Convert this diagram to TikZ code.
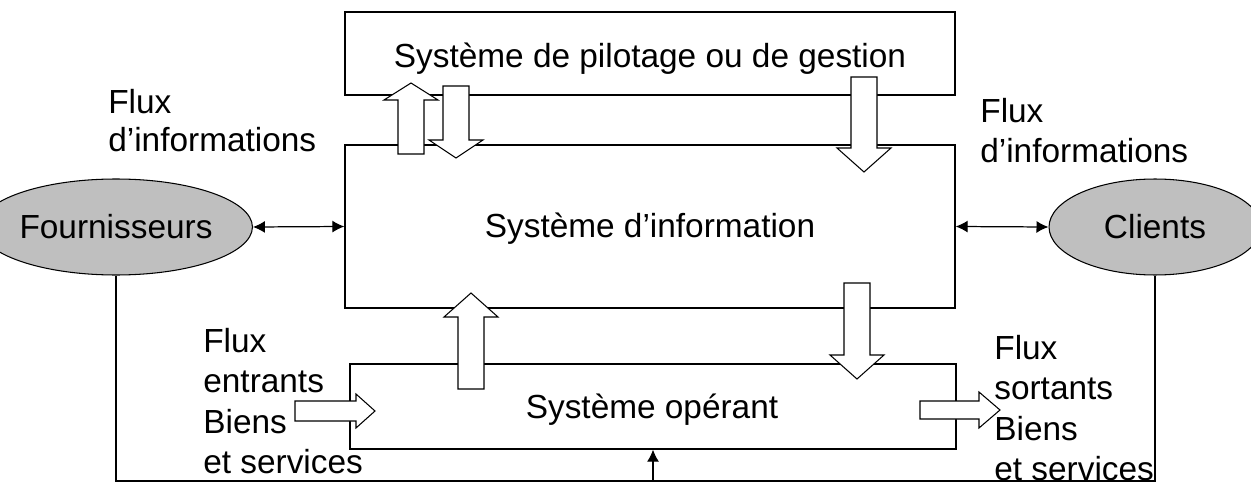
\documentclass[tikz,border=0pt]{standalone}
\usepackage{fontspec}
\setmainfont{Liberation Sans}
\usetikzlibrary{arrows.meta,shapes.geometric,calc}

\begin{document}
\begin{tikzpicture}[
    x=0.02cm,
    y=-0.02cm,
    >={Latex[length=2.4mm,width=2.4mm]},
    font=\fontsize{19}{21.6}\selectfont,
    box/.style={
        draw,
        rectangle,
        line width=0.8pt,
        inner sep=0pt
    },
    actor/.style={
        draw,
        ellipse,
        fill=gray!50,
        line width=0.6pt,
        minimum width=4.24cm,
        minimum height=1.92cm,
        inner sep=0pt
    },
    hollow/.style={
        draw,
        fill=white,
        line width=0.6pt,
        line join=miter
    },
    link/.style={
        <->,
        line width=0.7pt
    },
    flux/.style={
        align=left,
        inner sep=0pt,
        anchor=north west
    },
    fluxbas/.style={
        flux,
        font=\fontsize{19}{23}\selectfont
    }
    ]
    \useasboundingbox (0,0) rectangle (1251,483);

    % les trois systemes
    \node[box,minimum width=12.2cm,minimum height=1.66cm] (pilot) at (650,53.5) {};
    \node[box,minimum width=12.2cm,minimum height=3.26cm] (info) at (650,226.5) {};
    \node[box,minimum width=12.12cm,minimum height=1.7cm] (oper) at (653,406.5) {};
    \node[anchor=base] (pilottxt) at (650,68) {Système de pilotage ou de gestion};
    \node[anchor=base] (infotxt) at (650,237) {Système d’information};
    \node[anchor=base] (opertxt) at (652,418) {Système opérant};

    % partenaires
    \node[actor] (fourn) at (116,227) {Fournisseurs};
    \node[actor] (clients) at (1155,227) {Clients};

    \draw[link] (fourn.east) -- (info.west);
    \draw[link] (info.east) -- (clients.west);

    % retour par le bas
    \coordinate (bottom) at (653,481);
    \draw[line width=0.6pt] (fourn.south) |- (bottom) -| (clients.south);
    \draw[->,line width=0.6pt] (bottom) -- (oper.south);

    % flux d'informations entre systemes
    \draw[hollow] (398,154) -- (398,100) -- (384,100) -- (411,83) -- (438,100) -- (424,100) -- (424,154) -- cycle;
    \draw[hollow] (443,86) -- (443,140) -- (429,140) -- (456,158) -- (483,140) -- (469,140) -- (469,86) -- cycle;
    \draw[hollow] (851,77) -- (851,148) -- (837,148) -- (864,172) -- (891,148) -- (877,148) -- (877,77) -- cycle;
    \draw[hollow] (458,389) -- (458,317) -- (444,317) -- (471,293) -- (498,317) -- (484,317) -- (484,389) -- cycle;
    \draw[hollow] (844,283) -- (844,355) -- (830,355) -- (857,379) -- (884,355) -- (870,355) -- (870,283) -- cycle;

    % flux physiques
    \draw[hollow] (295,401) -- (356,401) -- (356,394) -- (375,411) -- (356,428) -- (356,421) -- (295,421) -- cycle;
    \draw[hollow] (920,401) -- (979,401) -- (979,392) -- (1000,410) -- (979,428) -- (979,419) -- (920,419) -- cycle;

    \node[flux] (infog) at (108,89) {Flux\\d’informations};
    \node[fluxbas] (infod) at (980,98) {Flux\\d’informations};
    \node[fluxbas] (entrants) at (203,328) {Flux\\entrants\\Biens\\et services};
    \node[fluxbas] (sortants) at (994,335) {Flux\\sortants\\Biens\\et services};
\end{tikzpicture}
\end{document}
